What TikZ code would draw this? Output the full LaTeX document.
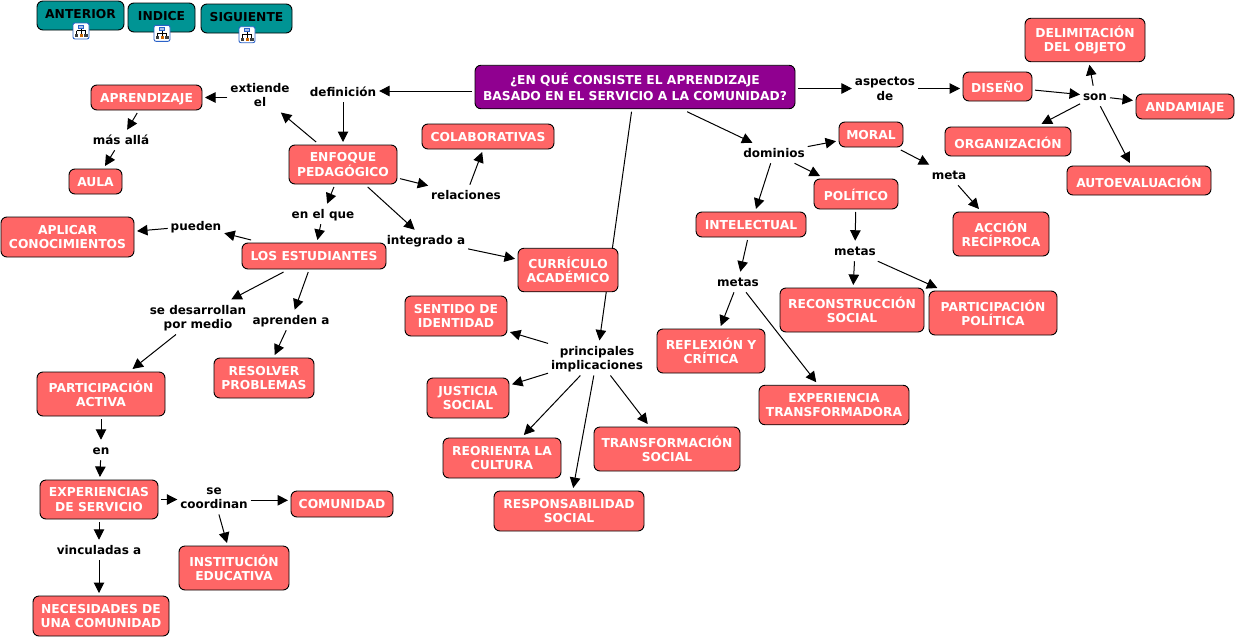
\documentclass[tikz,border=0pt]{standalone}
\usepackage{fontspec}
\setmainfont{DejaVu Sans}
\usetikzlibrary{arrows.meta,backgrounds}
\definecolor{coral}{HTML}{FF6666}
\definecolor{teal2}{HTML}{009494}
\definecolor{purp}{HTML}{900090}
\definecolor{iconblue}{HTML}{2A62C8}
\newcommand\LL[1]{\rule[-2.55pt]{0pt}{14.5pt}#1}
\newcommand\LB[1]{\rule[-1.55pt]{0pt}{14.5pt}#1}
\newcommand\LC[1]{\rule[-0.55pt]{0pt}{14.5pt}#1}
\newcommand\LN[1]{\rule[-4.6pt]{0pt}{14.5pt}#1}
\newcommand\orgicon[2]{%
  \begin{scope}[shift={(#1,#2)}]
    \draw[iconblue,fill=white,line width=0.9pt,rounded corners=2pt] (-8,-8) rectangle (8,8);
    \draw[black,line width=0.5pt] (0,-3) -- (0,3) (-4.5,-0.5) -- (4.5,-0.5) (-4.5,-0.5) -- (-4.5,3) (4.5,-0.5) -- (4.5,3);
    \draw[iconblue,fill=iconblue!40,line width=0.7pt] (-2.5,-6) rectangle (2.5,-3);
    \fill[black!75] (-6.5,3) rectangle (-3,6);
    \fill[orange!80!black] (-1.5,3) rectangle (1.5,6);
    \fill[black!75] (3,3) rectangle (6.5,6);
  \end{scope}}
\tikzset{
  txt/.style={font=\fontsize{12.3}{14.5}\selectfont\bfseries,align=center,inner sep=0pt},
  concept/.style={txt,shape=rectangle,rounded corners=6pt,draw=black,line width=0.9pt,fill=coral,text=white,outer sep=3pt},
  navbox/.style={concept,fill=teal2,text=black},
  rootbox/.style={concept,fill=purp},
  linklabel/.style={txt,font=\fontsize{12}{14.5}\selectfont\bfseries,text=black,outer sep=3pt},
  link/.style={draw=black,line width=1pt,-{Triangle[length=10.5pt,width=10.5pt]}},
}
\begin{document}
\begin{tikzpicture}[x=1pt,y=-1pt]
\useasboundingbox (0,0) rectangle (1236,637);
% navigation
\node[navbox,minimum width=87,minimum height=29] (anterior) at (80.5,15.5) {\LN{ANTERIOR}};
\node[navbox,minimum width=67,minimum height=29] (indice) at (161.5,17.5) {\LN{INDICE}};
\node[navbox,minimum width=91,minimum height=29] (siguiente) at (246.5,18.5) {\LN{SIGUIENTE}};
\orgicon{81}{31}
\orgicon{162}{33.3}
\orgicon{247}{34.7}
% concepts
\node[rootbox,minimum width=320,minimum height=43.5] (main) at (635,87) {\LB{¿EN QUÉ CONSISTE EL APRENDIZAJE}\\\LB{BASADO EN EL SERVICIO A LA COMUNIDAD?}};
\node[concept,minimum width=111,minimum height=25] (aprendizaje) at (146.5,97.5) {\LL{APRENDIZAJE}};
\node[concept,minimum width=53,minimum height=25] (aula) at (95.5,181.5) {\LL{AULA}};
\node[concept,minimum width=108,minimum height=39] (enfoque) at (343,164.5) {\LL{ENFOQUE}\\\LL{PEDAGÓGICO}};
\node[concept,minimum width=132,minimum height=25] (colab) at (488,136.5) {\LL{COLABORATIVAS}};
\node[concept,minimum width=100,minimum height=43.5] (curriculo) at (568,270) {\LB{CURRÍCULO}\\\LB{ACADÉMICO}};
\node[concept,minimum width=110,minimum height=25] (intelectual) at (751,224.5) {\LL{INTELECTUAL}};
\node[concept,minimum width=69,minimum height=29] (diseno) at (997.5,86.5) {\LB{DISEÑO}};
\node[concept,minimum width=120,minimum height=43.5] (delimit) at (1085,40) {\LL{DELIMITACIÓN}\\\LL{DEL OBJETO}};
\node[concept,minimum width=98,minimum height=25] (andamiaje) at (1185,106.5) {\LL{ANDAMIAJE}};
\node[concept,minimum width=126,minimum height=29] (organizacion) at (1008,141.5) {\LC{ORGANIZACIÓN}};
\node[concept,minimum width=64,minimum height=25] (moral) at (871,134.5) {\LL{MORAL}};
\node[concept,minimum width=84,minimum height=30] (politico) at (856,194) {\LC{POLÍTICO}};
\node[concept,minimum width=144,minimum height=29] (autoeval) at (1139,180.5) {\LC{AUTOEVALUACIÓN}};
\node[concept,minimum width=96,minimum height=44] (accion) at (1001,234) {\LB{ACCIÓN}\\\LB{RECÍPROCA}};
\node[concept,minimum width=144,minimum height=44] (reconstruccion) at (852,310) {\LB{RECONSTRUCCIÓN}\\\LB{SOCIAL}};
\node[concept,minimum width=128,minimum height=44] (partpolitica) at (993,313) {\LB{PARTICIPACIÓN}\\\LB{POLÍTICA}};
\node[concept,minimum width=108,minimum height=44] (reflexion) at (711,351) {\LB{REFLEXIÓN Y}\\\LB{CRÍTICA}};
\node[concept,minimum width=150,minimum height=39.5] (experiencia) at (834,405) {\LL{EXPERIENCIA}\\\LL{TRANSFORMADORA}};
\node[concept,minimum width=133,minimum height=40] (aplicar) at (67.5,237) {\LL{APLICAR}\\\LL{CONOCIMIENTOS}};
\node[concept,minimum width=144,minimum height=26] (estudiantes) at (314,256) {\LL{LOS ESTUDIANTES}};
\node[concept,minimum width=100,minimum height=40] (resolver) at (264,378) {\LL{RESOLVER}\\\LL{PROBLEMAS}};
\node[concept,minimum width=128,minimum height=44] (partactiva) at (101,394) {\LB{PARTICIPACIÓN}\\\LB{ACTIVA}};
\node[concept,minimum width=118,minimum height=39] (expservicio) at (99,499.5) {\LL{EXPERIENCIAS}\\\LL{DE SERVICIO}};
\node[concept,minimum width=102,minimum height=26] (comunidad) at (342,504) {\LL{COMUNIDAD}};
\node[concept,minimum width=110,minimum height=44] (institucion) at (234,568) {\LB{INSTITUCIÓN}\\\LB{EDUCATIVA}};
\node[concept,minimum width=136,minimum height=40] (necesidades) at (101,616) {\LL{NECESIDADES DE}\\\LL{UNA COMUNIDAD}};
\node[concept,minimum width=102,minimum height=40] (sentido) at (456,316) {\LL{SENTIDO DE}\\\LL{IDENTIDAD}};
\node[concept,minimum width=82,minimum height=40] (justicia) at (468,398) {\LL{JUSTICIA}\\\LL{SOCIAL}};
\node[concept,minimum width=118,minimum height=40] (reorienta) at (502,458) {\LL{REORIENTA LA}\\\LL{CULTURA}};
\node[concept,minimum width=146,minimum height=44] (transformacion) at (667,449) {\LB{TRANSFORMACIÓN}\\\LB{SOCIAL}};
\node[concept,minimum width=150,minimum height=40] (responsabilidad) at (569,511) {\LL{RESPONSABILIDAD}\\\LL{SOCIAL}};
% link labels
\node[linklabel] (extiende) at (260,95) {\LL{extiende}\\\LL{el}};
\node[linklabel] (definicion) at (343,92) {\LL{definición}};
\node[linklabel] (masalla) at (121,140) {\LL{más allá}};
\node[linklabel] (enelque) at (323,214) {\LL{en el que}};
\node[linklabel] (relaciones) at (466,195) {\LL{relaciones}};
\node[linklabel] (integrado) at (426,240) {\LL{integrado a}};
\node[linklabel] (pueden) at (196,226) {\LL{pueden}};
\node[linklabel] (desarrollan) at (198,317) {\LL{se desarrollan}\\\LL{por medio}};
\node[linklabel] (aprenden) at (291,320) {\LL{aprenden a}};
\node[linklabel] (en) at (101,450) {\LL{en}};
\node[linklabel] (coordinan) at (214,497) {\LL{se}\\\LL{coordinan}};
\node[linklabel] (vinculadas) at (99,550) {\LL{vinculadas a}};
\node[linklabel] (principales) at (597,358) {\LL{principales}\\\LL{implicaciones}};
\node[linklabel] (aspectos) at (885,88.5) {\LL{aspectos}\\\LL{de}};
\node[linklabel] (dominios) at (774,153) {\LL{dominios}};
\node[linklabel] (meta) at (949,175) {\LL{meta}};
\node[linklabel] (son) at (1095,96) {\LL{son}};
\node[linklabel] (metaspol) at (855,251) {\LL{metas}};
\node[linklabel] (metasint) at (738,282) {\LL{metas}};
\coordinate (defy) at (343,91);
\coordinate (coordy) at (214,500.3);
\begin{pgfonlayer}{background}
\fill[white] (0,0) rectangle (1236,637);
\foreach \a/\b in {definicion/enfoque,enfoque/extiende,
  aprendizaje/masalla,masalla/aula,enfoque/relaciones,relaciones/colab,enfoque/enelque,
  enelque/estudiantes,enfoque/integrado,integrado/curriculo,estudiantes/pueden,pueden/aplicar,
  estudiantes/desarrollan,desarrollan/partactiva,estudiantes/aprenden,aprenden/resolver,
  en/expservicio,coordinan/institucion,
  main/principales,principales/sentido,principales/justicia,principales/reorienta,
  principales/responsabilidad,principales/transformacion,
  main/dominios,dominios/moral,dominios/politico,dominios/intelectual,moral/meta,meta/accion,
  politico/metaspol,metaspol/reconstruccion,metaspol/partpolitica,
  intelectual/metasint,metasint/reflexion,metasint/experiencia,
  diseno/son,son/delimit,son/andamiaje,son/organizacion,son/autoeval}
  {\draw[link] (\a) -- (\b);}
% straight horizontal and vertical connectors
\draw[link] (main.west|-defy) -- (definicion.east|-defy);
\draw[link] (extiende.west|-aprendizaje) -- (aprendizaje.east);
\draw[link] (main.east|-aspectos) -- (aspectos.west);
\draw[link] (aspectos.east) -- (diseno.west|-aspectos);
\draw[link] (partactiva.south) -- (partactiva.south-|en.north) -- (en.north);
\draw[link] (expservicio.south) -- (expservicio.south-|vinculadas.north) -- (vinculadas.north);
\draw[link] (vinculadas.south) -- (necesidades.north-|vinculadas.south);
\draw[link] (expservicio.east) -- (coordinan.west|-expservicio.east);
\draw[link] (coordinan.east|-coordy) -- (comunidad.west|-coordy);
\end{pgfonlayer}
\end{tikzpicture}
\end{document}
